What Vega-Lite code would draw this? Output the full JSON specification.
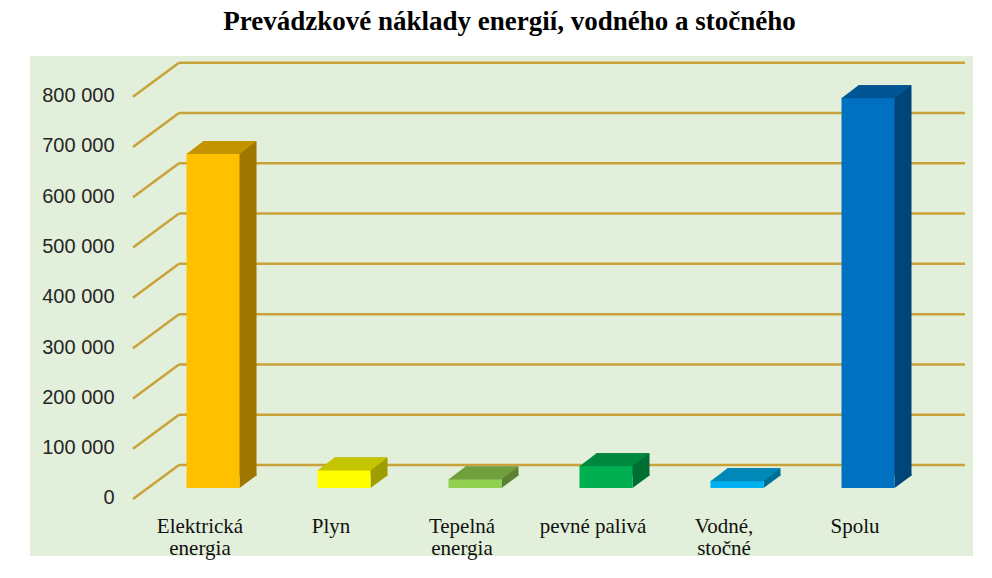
{
  "$schema": "https://vega.github.io/schema/vega-lite/v6.json",
  "width": 943,
  "height": 500,
  "autosize": {"type": "none"},
  "padding": {"left": 30, "top": 56, "right": 19, "bottom": 22},
  "background": "white",
  "title": {
    "text": "Prevádzkové náklady energií, vodného a stočného",
    "font": "Liberation Serif",
    "fontSize": 27,
    "fontWeight": "bold",
    "color": "#000000",
    "anchor": "middle",
    "baseline": "alphabetic",
    "offset": -1,
    "dx": 8
  },
  "config": {
    "view": {"fill": "#E2EFDA", "stroke": null},
    "axisX": {"labelFont": "Liberation Serif", "labelFontSize": 21, "labelColor": "#111111"},
    "axisY": {"labelFont": "Liberation Sans", "labelFontSize": 20, "labelColor": "#262626"}
  },
  "datasets": {
    "naklady": [
      {"kategoria": "Elektrická energia", "naklady": 665000},
      {"kategoria": "Plyn", "naklady": 36000},
      {"kategoria": "Tepelná energia", "naklady": 18000},
      {"kategoria": "pevné palivá", "naklady": 44000},
      {"kategoria": "Vodné, stočné", "naklady": 14500},
      {"kategoria": "Spolu", "naklady": 776000}
    ],
    "mriezka": [
      {"hodnota": 0}, {"hodnota": 100000}, {"hodnota": 200000}, {"hodnota": 300000},
      {"hodnota": 400000}, {"hodnota": 500000}, {"hodnota": 600000}, {"hodnota": 700000},
      {"hodnota": 800000}
    ]
  },
  "resolve": {"scale": {"color": "independent"}},
  "layer": [
    {
      "data": {"name": "naklady"},
      "mark": {"type": "bar", "size": 53, "yOffset": 23, "y2Offset": 23, "strokeWidth": 0, "opacity": 0},
      "encoding": {
        "x": {
          "field": "kategoria", "type": "nominal", "sort": null, "title": null,
          "scale": {
            "domain": ["Elektrická energia", "Plyn", "Tepelná energia", "pevné palivá", "Vodné, stočné", "Spolu"],
            "range": [117.5, 903.5], "paddingInner": 0, "paddingOuter": 0
          },
          "axis": {
            "title": null, "domain": false, "ticks": false, "tickSize": 0, "grid": false,
            "offset": -40, "labelPadding": 16, "labelOffset": -13, "labelAngle": 0,
            "labelFont": "Liberation Serif", "labelFontSize": 21, "labelColor": "#111111",
            "labelBaseline": "alphabetic", "labelLineHeight": 22, "labelLimit": 0,
            "labelExpr": "datum.label == 'pevné palivá' ? datum.label : split(datum.label, ' ')"
          }
        },
        "y": {
          "field": "naklady", "type": "quantitative", "title": null,
          "scale": {"domain": [-180960, 813324], "nice": false, "zero": false},
          "axis": {
            "title": null, "values": [0, 100000, 200000, 300000, 400000, 500000, 600000, 700000, 800000],
            "grid": false, "domain": false, "ticks": false, "tickSize": 0,
            "labelPadding": 2, "offset": -86, "labelOffset": 33,
            "labelFont": "Liberation Sans", "labelFontSize": 20, "labelColor": "#262626",
            "labelBaseline": "middle",
            "labelExpr": "replace(format(datum.value, ','), ',', ' ')"
          }
        },
        "y2": {"datum": 0}
      }
    },
    {
      "data": {"name": "mriezka"},
      "mark": {"type": "rule", "color": "#C9A33A", "strokeWidth": 2.5, "xOffset": -80, "x2Offset": -34, "yOffset": 34, "y2Offset": 0},
      "encoding": {
        "x": {"datum": "Elektrická energia", "type": "nominal", "title": null},
        "x2": {"datum": "Elektrická energia"},
        "y": {"field": "hodnota", "type": "quantitative", "title": null},
        "y2": {"field": "hodnota"}
      }
    },
    {
      "data": {"name": "mriezka"},
      "mark": {"type": "rule", "color": "#C9A33A", "strokeWidth": 2.5, "xOffset": -34, "x2Offset": 97},
      "encoding": {
        "x": {"datum": "Elektrická energia", "type": "nominal", "title": null},
        "x2": {"datum": "Spolu"},
        "y": {"field": "hodnota", "type": "quantitative", "title": null}
      }
    },
    {
      "data": {"name": "naklady"},
      "mark": {"type": "bar", "size": 53, "xOffset": 17, "yOffset": 10.5, "y2Offset": 10.5, "strokeWidth": 0},
      "encoding": {
        "x": {"field": "kategoria", "type": "nominal", "title": null},
        "y": {"field": "naklady", "type": "quantitative", "title": null},
        "y2": {"datum": 0},
        "color": {
          "field": "kategoria", "type": "nominal", "legend": null,
          "scale": {
            "domain": ["Elektrická energia", "Plyn", "Tepelná energia", "pevné palivá", "Vodné, stočné", "Spolu"],
            "range": ["#9E7700", "#9E9E00", "#5B8132", "#006D32", "#006D95", "#004577"]
          }
        }
      }
    },
    {
      "data": {"name": "naklady"},
      "mark": {"type": "point", "shape": "M26.5,-14L26.5,0L43.5,-12.5L43.5,-14Z", "size": 4, "filled": true, "opacity": 1, "strokeWidth": 0, "yOffset": 23},
      "encoding": {
        "x": {"field": "kategoria", "type": "nominal", "title": null},
        "y": {"datum": 0, "type": "quantitative", "title": null},
        "color": {
          "field": "kategoria", "type": "nominal", "legend": null,
          "scale": {
            "domain": ["Elektrická energia", "Plyn", "Tepelná energia", "pevné palivá", "Vodné, stočné", "Spolu"],
            "range": ["#9E7700", "#9E9E00", "#5B8132", "#006D32", "#006D95", "#004577"]
          }
        }
      }
    },
    {
      "data": {"name": "naklady"},
      "mark": {"type": "bar", "size": 53, "yOffset": 23, "y2Offset": 23, "strokeWidth": 0},
      "encoding": {
        "x": {"field": "kategoria", "type": "nominal", "title": null},
        "y": {"field": "naklady", "type": "quantitative", "title": null},
        "y2": {"datum": 0},
        "color": {
          "field": "kategoria", "type": "nominal", "legend": null,
          "scale": {
            "domain": ["Elektrická energia", "Plyn", "Tepelná energia", "pevné palivá", "Vodné, stočné", "Spolu"],
            "range": ["#FFC000", "#FFFF00", "#92D050", "#00B050", "#00B0F0", "#0070C0"]
          }
        }
      }
    },
    {
      "data": {"name": "naklady"},
      "mark": {"type": "point", "shape": "M-26.5,0.5L26.5,0.5L43.5,-12.5L-9.5,-12.5Z", "size": 4, "filled": true, "opacity": 1, "strokeWidth": 0, "yOffset": 23},
      "encoding": {
        "x": {"field": "kategoria", "type": "nominal", "title": null},
        "y": {"field": "naklady", "type": "quantitative", "title": null},
        "color": {
          "field": "kategoria", "type": "nominal", "legend": null,
          "scale": {
            "domain": ["Elektrická energia", "Plyn", "Tepelná energia", "pevné palivá", "Vodné, stočné", "Spolu"],
            "range": ["#C49400", "#C4C400", "#70A03E", "#00883E", "#0088B9", "#005694"]
          }
        }
      }
    }
  ]
}
